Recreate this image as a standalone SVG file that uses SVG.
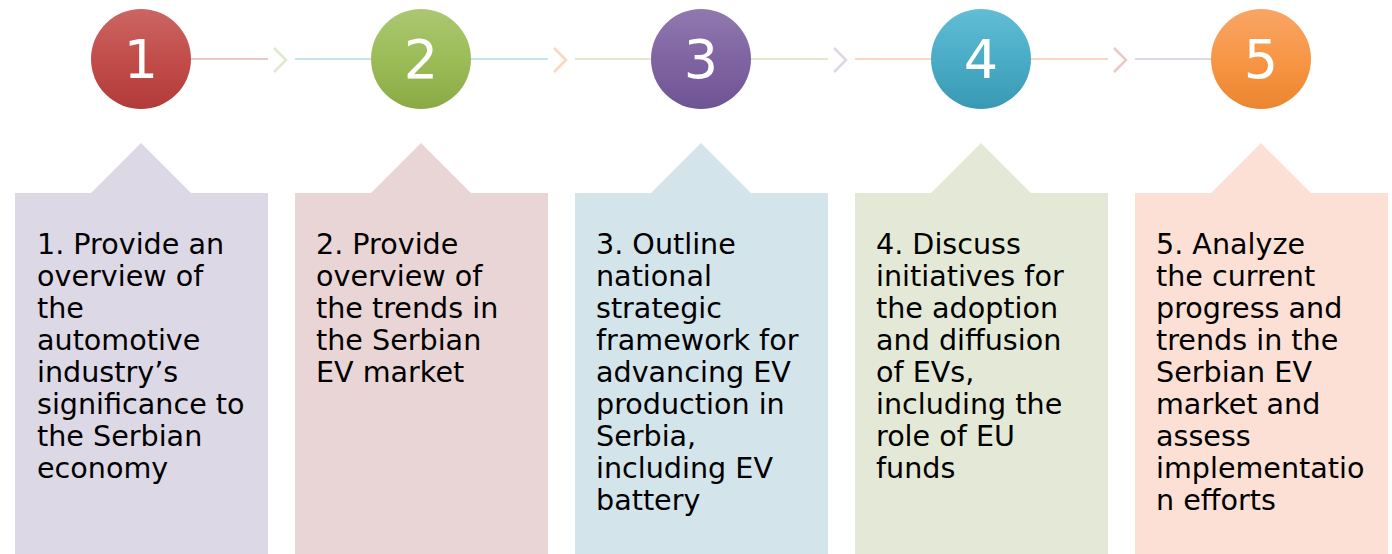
<svg xmlns="http://www.w3.org/2000/svg" width="1392" height="554" viewBox="0 0 1392 554">
<defs>
<linearGradient id="gRed" x1="0" y1="0" x2="0" y2="1"><stop offset="0" stop-color="#cb6663"/><stop offset="0.5" stop-color="#c24d4a"/><stop offset="1" stop-color="#b03b38"/></linearGradient>
<linearGradient id="gGreen" x1="0" y1="0" x2="0" y2="1"><stop offset="0" stop-color="#abc772"/><stop offset="0.5" stop-color="#9cbc58"/><stop offset="1" stop-color="#89aa43"/></linearGradient>
<linearGradient id="gPurple" x1="0" y1="0" x2="0" y2="1"><stop offset="0" stop-color="#9079af"/><stop offset="0.5" stop-color="#8064a2"/><stop offset="1" stop-color="#6f5494"/></linearGradient>
<linearGradient id="gBlue" x1="0" y1="0" x2="0" y2="1"><stop offset="0" stop-color="#62bdd5"/><stop offset="0.5" stop-color="#4aacc6"/><stop offset="1" stop-color="#3999b4"/></linearGradient>
<linearGradient id="gOrange" x1="0" y1="0" x2="0" y2="1"><stop offset="0" stop-color="#f9a566"/><stop offset="0.5" stop-color="#f79646"/><stop offset="1" stop-color="#eb852f"/></linearGradient>
</defs>
<style>
.num{font-family:"DejaVu Sans","Verdana",sans-serif;font-size:54px;fill:#ffffff;text-anchor:middle}
.txt{font-family:"DejaVu Sans","Verdana",sans-serif;font-size:28.6px;fill:#000000}
.ln{stroke-width:2;fill:none}
.chev{stroke-width:2.5;fill:none}
.cred{stroke:#ebc9c8}
.cgreen{stroke:#dfe9cf}
.cblue{stroke:#c6e4ec}
.corange{stroke:#fcd5bf}
.cpurple{stroke:#dcd6e6}
</style>
<g id="connectors">
<line class="ln cred" x1="191" y1="59" x2="268" y2="59"/>
<polyline class="chev cgreen" points="274,48 286,60 274,72"/>
<line class="ln cblue" x1="295" y1="59" x2="371" y2="59"/>
<line class="ln cblue" x1="471" y1="59" x2="548" y2="59"/>
<polyline class="chev corange" points="554,48 566,60 554,72"/>
<line class="ln cgreen" x1="575" y1="59" x2="651" y2="59"/>
<line class="ln cgreen" x1="751" y1="59" x2="828" y2="59"/>
<polyline class="chev cpurple" points="834,48 846,60 834,72"/>
<line class="ln corange" x1="855" y1="59" x2="931" y2="59"/>
<line class="ln corange" x1="1031" y1="59" x2="1108" y2="59"/>
<polyline class="chev cred" points="1114,48 1126,60 1114,72"/>
<line class="ln cpurple" x1="1135" y1="59" x2="1211" y2="59"/>
</g>
<g id="node1">
<circle cx="141" cy="59" r="50" fill="url(#gRed)"/>
<text class="num" x="141" y="78">1</text>
<path d="M15,193 H91 L141,143 L191,193 H268 V554 H15 Z" fill="#dcd8e5"/>
<text class="txt"><tspan x="37" y="254">1. Provide an</tspan><tspan x="37" y="286">overview of</tspan><tspan x="37" y="318">the</tspan><tspan x="37" y="350">automotive</tspan><tspan x="37" y="382">industry’s</tspan><tspan x="37" y="414">significance to</tspan><tspan x="37" y="446">the Serbian</tspan><tspan x="37" y="478">economy</tspan></text>
</g>
<g id="node2">
<circle cx="421" cy="59" r="50" fill="url(#gGreen)"/>
<text class="num" x="421" y="78">2</text>
<path d="M295,193 H371 L421,143 L471,193 H548 V554 H295 Z" fill="#e9d5d5"/>
<text class="txt"><tspan x="316" y="254">2. Provide</tspan><tspan x="316" y="286">overview of</tspan><tspan x="316" y="318">the trends in</tspan><tspan x="316" y="350">the Serbian</tspan><tspan x="316" y="382">EV market</tspan></text>
</g>
<g id="node3">
<circle cx="701" cy="59" r="50" fill="url(#gPurple)"/>
<text class="num" x="701" y="78">3</text>
<path d="M575,193 H651 L701,143 L751,193 H828 V554 H575 Z" fill="#d4e4eb"/>
<text class="txt"><tspan x="596" y="254">3. Outline</tspan><tspan x="596" y="286">national</tspan><tspan x="596" y="318">strategic</tspan><tspan x="596" y="350">framework for</tspan><tspan x="596" y="382">advancing EV</tspan><tspan x="596" y="414">production in</tspan><tspan x="596" y="446">Serbia,</tspan><tspan x="596" y="478">including EV</tspan><tspan x="596" y="510">battery</tspan></text>
</g>
<g id="node4">
<circle cx="981" cy="59" r="50" fill="url(#gBlue)"/>
<text class="num" x="981" y="78">4</text>
<path d="M855,193 H931 L981,143 L1031,193 H1108 V554 H855 Z" fill="#e3e9d6"/>
<text class="txt"><tspan x="876" y="254">4. Discuss</tspan><tspan x="876" y="286">initiatives for</tspan><tspan x="876" y="318">the adoption</tspan><tspan x="876" y="350">and diffusion</tspan><tspan x="876" y="382">of EVs,</tspan><tspan x="876" y="414">including the</tspan><tspan x="876" y="446">role of EU</tspan><tspan x="876" y="478">funds</tspan></text>
</g>
<g id="node5">
<circle cx="1261" cy="59" r="50" fill="url(#gOrange)"/>
<text class="num" x="1261" y="78">5</text>
<path d="M1135,193 H1211 L1261,143 L1311,193 H1388 V554 H1135 Z" fill="#fce0d5"/>
<text class="txt"><tspan x="1156" y="254">5. Analyze</tspan><tspan x="1156" y="286">the current</tspan><tspan x="1156" y="318">progress and</tspan><tspan x="1156" y="350">trends in the</tspan><tspan x="1156" y="382">Serbian EV</tspan><tspan x="1156" y="414">market and</tspan><tspan x="1156" y="446">assess</tspan><tspan x="1156" y="478">implementatio</tspan><tspan x="1156" y="510">n efforts</tspan></text>
</g>
</svg>
